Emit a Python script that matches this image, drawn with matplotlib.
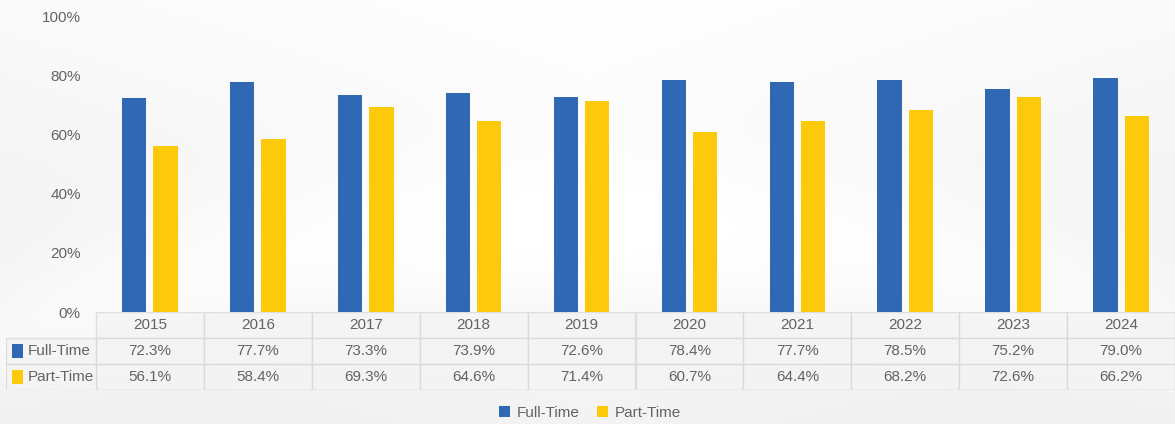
import numpy as np
import matplotlib.pyplot as plt
from matplotlib.patches import Rectangle

years = ['2015', '2016', '2017', '2018', '2019', '2020', '2021', '2022', '2023', '2024']
full_time = [72.3, 77.7, 73.3, 73.9, 72.6, 78.4, 77.7, 78.5, 75.2, 79.0]
part_time = [56.1, 58.4, 69.3, 64.6, 71.4, 60.7, 64.4, 68.2, 72.6, 66.2]
series_names = ['Full-Time', 'Part-Time']

BLUE = '#3068B4'
YELLOW = '#FDC90B'
TXT = '#636363'
GRID = '#d9d9d9'

plt.rcParams['font.family'] = ['Liberation Sans', 'DejaVu Sans']

W, H = 1175, 424
fig = plt.figure(figsize=(W / 100, H / 100), dpi=100)

# soft background: light grey with a white diagonal sweep
bg = fig.add_axes([0, 0, 1, 1], zorder=-10)
yy, xx = np.mgrid[0:H, 0:W]
xn, yn = xx / W, yy / H
base = 0.98 - 0.045 * yn + 0.02 * (1 - np.abs(xn - 0.5) * 2)
sweep = np.exp(-((yn - 0.55 - 0.5 * (xn - 0.5) ** 2 * 2) / 0.18) ** 2) * 0.03
img = np.clip(base + sweep, 0, 1)
bg.imshow(np.dstack([img, img, img]), aspect='auto', extent=[0, 1, 0, 1])
bg.axis('off')

# bar chart area
x0, x1 = 96, 1175
y_top, y_zero = 16, 312
ax = fig.add_axes([x0 / W, (H - y_zero) / H, (x1 - x0) / W, (y_zero - y_top) / H])
ax.patch.set_alpha(0)
x = np.arange(len(years))
bw = 0.225
off = 0.145
ax.bar(x - off, full_time, bw, color=BLUE, label=series_names[0])
ax.bar(x + off, part_time, bw, color=YELLOW, label=series_names[1])
ax.set_xlim(-0.5, len(years) - 0.5)
ax.set_ylim(0, 100)
ax.set_yticks(range(0, 101, 20))
ax.set_yticklabels([f'{v}%' for v in range(0, 101, 20)])
ax.tick_params(axis='y', length=0, pad=11, labelsize=11, labelcolor=TXT)
ax.set_xticks([])
for s in ax.spines.values():
    s.set_visible(False)

# data table below the plot
tab_left, tab_bottom = 6, 390
cat_w = (x1 - x0) / len(years)
lab_units = (x0 - tab_left) / cat_w
tax = fig.add_axes([tab_left / W, (H - tab_bottom) / H, (x1 - tab_left) / W, (tab_bottom - y_zero) / H])
tax.set_xlim(-0.5 - lab_units, len(years) - 0.5)
tax.set_ylim(0, 3)
tax.axis('off')

rows = [full_time, part_time]
colors = [BLUE, YELLOW]
for i in range(len(years)):
    tax.add_patch(Rectangle((i - 0.5, 0), 1, 3, facecolor='#f4f4f4', edgecolor=GRID, lw=1, alpha=0.8))
    tax.text(i, 2.5, years[i], ha='center', va='center', fontsize=11, color=TXT)
    for r, vals in enumerate(rows):
        tax.text(i, 1.5 - r, f'{vals[i]:.1f}%', ha='center', va='center', fontsize=11, color=TXT)
for r in range(3):
    tax.plot([-0.5, len(years) - 0.5], [r, r], color=GRID, lw=1)
tax.add_patch(Rectangle((-0.5 - lab_units, 0), lab_units, 2, facecolor='#f4f4f4', edgecolor=GRID, lw=1, alpha=0.8))
tax.plot([-0.5 - lab_units, -0.5], [1, 1], color=GRID, lw=1)
for r, name in enumerate(series_names):
    yc = 1.5 - r
    tax.add_patch(Rectangle((-0.5 - lab_units + 0.06, yc - 0.27), 0.1, 0.54, facecolor=colors[r], edgecolor='none',
                            transform=tax.transData))
    tax.text(-0.5 - lab_units + 0.2, yc, name, ha='left', va='center', fontsize=11, color=TXT)

fig.legend(loc='center', bbox_to_anchor=(590 / W, (H - 413) / H), ncol=2, frameon=False,
           fontsize=11, labelcolor=TXT, handlelength=0.7, handleheight=0.7, handletextpad=0.4,
           columnspacing=1.2)

fig.savefig('out.png', dpi=100)
